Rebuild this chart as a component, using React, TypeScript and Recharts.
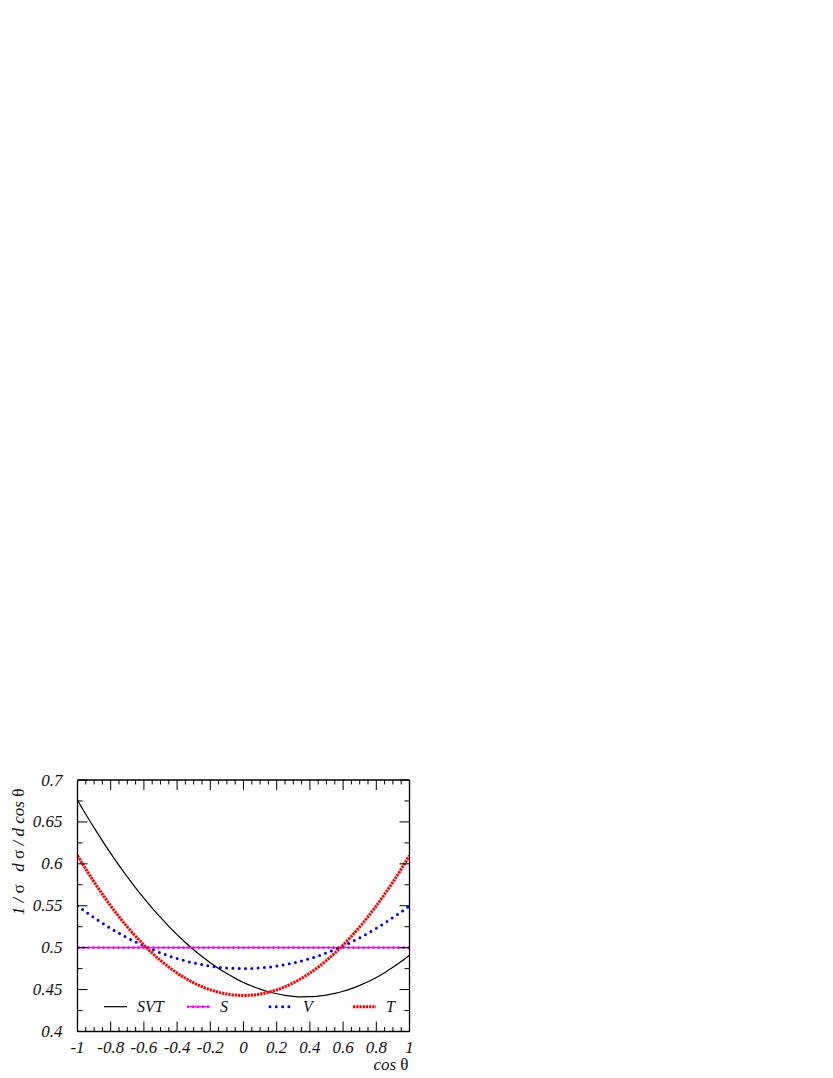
import React from "react";
import { LineChart, Line, XAxis, YAxis, Legend, Label } from "recharts";

const cosTheta = [
  -1, -0.95, -0.9, -0.85, -0.8, -0.75, -0.7, -0.65, -0.6, -0.55, -0.5, -0.45, -0.4, -0.35, -0.3, -0.25, -0.2,
  -0.15, -0.1, -0.05, 0, 0.05, 0.1, 0.15, 0.2, 0.25, 0.3, 0.35, 0.4, 0.45, 0.5, 0.55, 0.6, 0.65, 0.7, 0.75, 0.8,
  0.85, 0.9, 0.95, 1,
];

const svtValues = [
  0.676, 0.6592, 0.6431, 0.6274, 0.6125, 0.5982, 0.5846, 0.5714, 0.559, 0.5472, 0.5361, 0.5254, 0.5155, 0.5062,
  0.4976, 0.4894, 0.482, 0.4752, 0.4691, 0.4634, 0.4585, 0.4542, 0.4505, 0.4474, 0.445, 0.4432, 0.442, 0.4414,
  0.4415, 0.4422, 0.4435, 0.4454, 0.448, 0.4512, 0.455, 0.4594, 0.4645, 0.4702, 0.4765, 0.4834, 0.491,
];

const sValues = [
  0.5, 0.5, 0.5, 0.5, 0.5, 0.5, 0.5, 0.5, 0.5, 0.5, 0.5, 0.5, 0.5, 0.5, 0.5, 0.5, 0.5, 0.5, 0.5, 0.5, 0.5, 0.5,
  0.5, 0.5, 0.5, 0.5, 0.5, 0.5, 0.5, 0.5, 0.5, 0.5, 0.5, 0.5, 0.5, 0.5, 0.5, 0.5, 0.5, 0.5, 0.5,
];

const vValues = [
  0.55, 0.5427, 0.5358, 0.5292, 0.523, 0.5172, 0.5118, 0.5067, 0.502, 0.4977, 0.4938, 0.4902, 0.487, 0.4842,
  0.4818, 0.4797, 0.478, 0.4767, 0.4758, 0.4752, 0.475, 0.4752, 0.4758, 0.4767, 0.478, 0.4797, 0.4818, 0.4842,
  0.487, 0.4902, 0.4938, 0.4977, 0.502, 0.5067, 0.5118, 0.5172, 0.523, 0.5292, 0.5358, 0.5427, 0.55,
];

const tValues = [
  0.61, 0.5937, 0.5783, 0.5637, 0.5499, 0.5369, 0.5248, 0.5136, 0.5031, 0.4935, 0.4848, 0.4768, 0.4697, 0.4635,
  0.458, 0.4534, 0.4497, 0.4468, 0.4447, 0.4434, 0.443, 0.4434, 0.4447, 0.4468, 0.4497, 0.4534, 0.458, 0.4635,
  0.4697, 0.4768, 0.4848, 0.4935, 0.5031, 0.5136, 0.5248, 0.5369, 0.5499, 0.5637, 0.5783, 0.5937, 0.61,
];

// axis ticks: labelled majors + unlabelled minors
const xMajor = [-1, -0.8, -0.6, -0.4, -0.2, 0, 0.2, 0.4, 0.6, 0.8, 1];
const xAll = [
  -1, -0.95, -0.9, -0.85, -0.8, -0.75, -0.7, -0.65, -0.6, -0.55, -0.5, -0.45, -0.4, -0.35, -0.3, -0.25, -0.2,
  -0.15, -0.1, -0.05, 0, 0.05, 0.1, 0.15, 0.2, 0.25, 0.3, 0.35, 0.4, 0.45, 0.5, 0.55, 0.6, 0.65, 0.7, 0.75, 0.8,
  0.85, 0.9, 0.95, 1,
];
const yMajor = [0.4, 0.45, 0.5, 0.55, 0.6, 0.65, 0.7];
const yAll = [0.4, 0.425, 0.45, 0.475, 0.5, 0.525, 0.55, 0.575, 0.6, 0.625, 0.65, 0.675, 0.7];

const keyOrder = ["SVT", "S", "V", "T"];

const data = cosTheta.map((c, i) => ({
  c,
  SVT: svtValues[i],
  S: sValues[i],
  V: vValues[i],
  T: tValues[i],
}));

const FONT = '"Liberation Serif", "Times New Roman", serif';
const INK = "#111";

const lineStyles: Record<string, any> = {
  SVT: { stroke: "#000000", strokeWidth: 1.2 },
  S: { stroke: "#ff00ff", strokeWidth: 1.4 },
  V: { stroke: "#0000ff", strokeWidth: 3, strokeDasharray: "0 6.3", strokeLinecap: "round" },
  T: { stroke: "#ff0000", strokeWidth: 3, strokeDasharray: "2.3 0.9" },
};

const labelStyle = { fontFamily: FONT, fontStyle: "italic", fontSize: 16, fill: INK };
const tickStyle = { ...labelStyle, fontSize: 17 };

function BottomTick({ x, y, payload }: any) {
  const major = xMajor.includes(payload.value);
  return (
    <g>
      <line x1={x} x2={x} y1={y} y2={y - (major ? 10 : 4.5)} stroke="#000" strokeWidth={1} />
      {major && (
        <text x={x} y={y + 21} textAnchor="middle" {...tickStyle}>
          {String(payload.value)}
        </text>
      )}
    </g>
  );
}

function TopTick({ x, y, payload }: any) {
  const major = xMajor.includes(payload.value);
  return <line x1={x} x2={x} y1={y} y2={y + (major ? 10 : 4.5)} stroke="#000" strokeWidth={1} />;
}

function LeftTick({ x, y, payload }: any) {
  const major = yMajor.includes(payload.value);
  return (
    <g>
      <line x1={x} x2={x + (major ? 10 : 5)} y1={y} y2={y} stroke="#000" strokeWidth={1} />
      {major && (
        <text x={x - 15} y={y + 5.5} textAnchor="end" {...tickStyle}>
          {String(payload.value)}
        </text>
      )}
    </g>
  );
}

function RightTick({ x, y, payload }: any) {
  const major = yMajor.includes(payload.value);
  return <line x1={x} x2={x - (major ? 10 : 5)} y1={y} y2={y} stroke="#000" strokeWidth={1} />;
}

function YTitle({ viewBox }: any) {
  const x = viewBox.x + viewBox.width - 54;
  const y = viewBox.y + 72;
  return (
    <text x={x} y={y} textAnchor="middle" transform={`rotate(-90 ${x} ${y})`} {...tickStyle}>
      1 / <tspan fontStyle="normal">σ</tspan>{"\u00a0\u00a0 "}d <tspan fontStyle="normal">σ</tspan> / d cos{" "}
      <tspan fontStyle="normal">θ</tspan>
    </text>
  );
}

function XTitle({ viewBox }: any) {
  return (
    <text x={viewBox.x + viewBox.width - 1} y={viewBox.y + 38.5} textAnchor="end" {...tickStyle}>
      cos <tspan fontStyle="normal">θ</tspan>
    </text>
  );
}

function KeyBox({ payload }: any) {
  const entries = keyOrder
    .map((k) => (payload || []).find((p: any) => p.value === k))
    .filter(Boolean);
  return (
    <svg width={331} height={22} style={{ overflow: "visible" }}>
      {entries.map((entry: any, i: number) => {
        const st = lineStyles[entry.value] || {};
        const x0 = 26 + i * 83;
        const cy = 10.7;
        return (
          <g key={entry.value}>
            <line x1={x0} x2={x0 + 23} y1={cy} y2={cy} {...st} />
            {entry.value === "S" && (
              <line x1={x0} x2={x0 + 23} y1={cy} y2={cy} stroke="#ff00ff" strokeWidth={2.6} strokeDasharray="2 3" />
            )}
            <text x={x0 + 33} y={cy + 5.5} {...labelStyle}>
              {entry.value}
            </text>
          </g>
        );
      })}
    </svg>
  );
}

const axisLine = { stroke: "#000", strokeWidth: 1.3 };

export default function App() {
  return (
    <div style={{ position: "absolute", left: 0, top: 0 }}>
      <LineChart
        width={833}
        height={1078}
        data={data}
        margin={{ top: 779, right: 422.5, bottom: 45.5, left: 76.5 }}
      >
        <XAxis
          dataKey="c"
          type="number"
          domain={[-1, 1]}
          allowDataOverflow
          ticks={xAll}
          interval={0}
          height={1}
          tickSize={0}
          tickMargin={0}
          tickLine={false}
          tick={BottomTick}
          axisLine={axisLine}
        >
          <Label content={XTitle} />
        </XAxis>
        <XAxis
          xAxisId="top"
          orientation="top"
          dataKey="c"
          type="number"
          domain={[-1, 1]}
          allowDataOverflow
          ticks={xAll}
          interval={0}
          height={1}
          tickSize={0}
          tickMargin={0}
          tickLine={false}
          tick={TopTick}
          axisLine={axisLine}
        />
        <YAxis
          type="number"
          domain={[0.4, 0.7]}
          allowDataOverflow
          ticks={yAll}
          interval={0}
          width={1}
          tickSize={0}
          tickMargin={0}
          tickLine={false}
          tick={LeftTick}
          axisLine={axisLine}
        >
          <Label content={YTitle} />
        </YAxis>
        <YAxis
          yAxisId="right"
          orientation="right"
          type="number"
          domain={[0.4, 0.7]}
          allowDataOverflow
          ticks={yAll}
          interval={0}
          width={1}
          tickSize={0}
          tickMargin={0}
          tickLine={false}
          tick={RightTick}
          axisLine={axisLine}
        />

        <Legend
          layout="horizontal"
          verticalAlign="middle"
          align="center"
          wrapperStyle={{ left: 78, top: 996, width: 331, height: 22 }}
          content={KeyBox}
        />

        <Line type="monotone" dataKey="SVT" name="SVT" dot={false} isAnimationActive={false} {...lineStyles.SVT} />
        <Line type="monotone" dataKey="S" name="S" dot={false} isAnimationActive={false} {...lineStyles.S} />
        <Line
          type="monotone"
          dataKey="S"
          name="S markers"
          legendType="none"
          dot={false}
          isAnimationActive={false}
          stroke="#ff00ff"
          strokeWidth={2.6}
          strokeDasharray="2 3"
        />
        <Line type="monotone" dataKey="V" name="V" dot={false} isAnimationActive={false} {...lineStyles.V} />
        <Line type="monotone" dataKey="T" name="T" dot={false} isAnimationActive={false} {...lineStyles.T} />
      </LineChart>
    </div>
  );
}
